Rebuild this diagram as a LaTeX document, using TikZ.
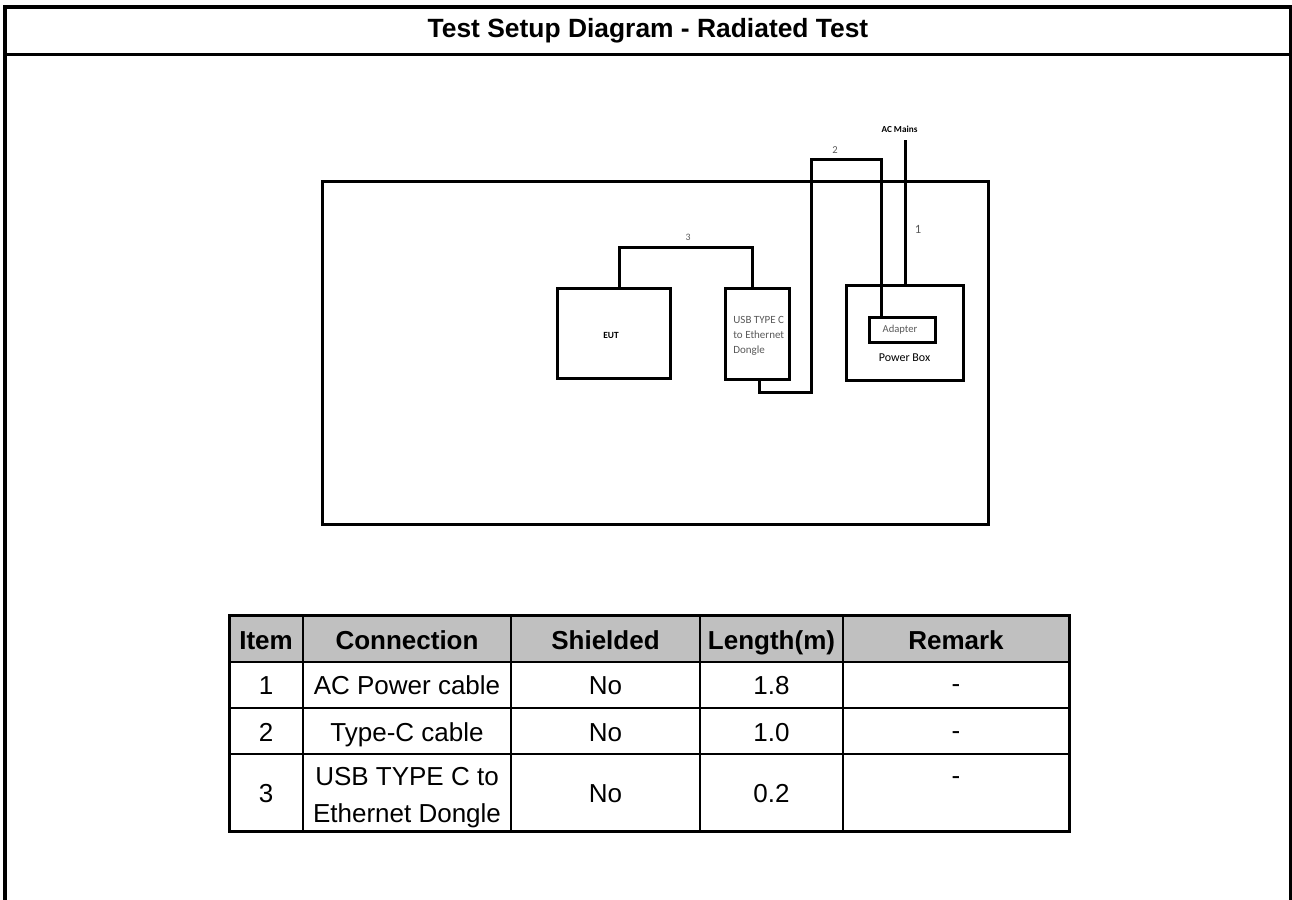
\documentclass[tikz,border=0pt]{standalone}
\usepackage{fontspec}
\setmainfont{Liberation Sans}
\newfontfamily\calibri{Carlito}
\definecolor{hdr}{HTML}{C0C0C0}
\definecolor{lblgray}{HTML}{595959}
\begin{document}
\begin{tikzpicture}[x=0.5pt,y=-0.5pt,
  box/.style={draw, line width=1.5pt, inner sep=0pt, outer sep=0pt},
  cable/.style={line width=1.5pt},
  dlbl/.style={font=\calibri\fontsize{5.5}{7.5}\selectfont, text=lblgray, inner sep=0pt},
  num/.style={font=\calibri\fontsize{5.3}{6}\selectfont, text=lblgray, inner sep=0pt},
  th/.style={font=\bfseries\fontsize{13}{15}\selectfont, inner sep=0pt, anchor=base},
  td/.style={font=\fontsize{13}{15}\selectfont, inner sep=0pt, anchor=base}]
\useasboundingbox (0,0) rectangle (1292,900);

% outer frame
\draw[line width=2pt] (5.3,900) -- (5.3,7) -- (1291,7) -- (1291,900);
\draw[line width=1.2pt] (5,54.5) -- (1291,54.5);
\node[font=\bfseries\fontsize{13.2}{15}\selectfont, inner sep=0pt] (title) at (648,31) {Test Setup Diagram - Radiated Test};

% diagram
\node[box, minimum width=333pt, minimum height=171.5pt] (table) at (655,352.5) {};
\node[box, minimum width=56.5pt, minimum height=45pt] (eut) at (613.5,333) {};
\node[font=\calibri\bfseries\fontsize{4.7}{5}\selectfont, inner sep=0pt] (eutl) at (611,335) {EUT};
\node[box, minimum width=32pt, minimum height=45.5pt] (dongle) at (757,333.5) {};
\node[dlbl, align=left, anchor=west] (dongl) at (733,336) {USB TYPE C\\to Ethernet\\Dongle};
\node[box, minimum width=58.5pt, minimum height=47.5pt] (pbox) at (904.5,332.5) {};
\node[font=\calibri\fontsize{6}{7}\selectfont, inner sep=0pt] (pboxl) at (904.5,358) {Power Box};
\node[box, minimum width=33pt, minimum height=12.5pt] (adapter) at (902,329.5) {};
\node[dlbl, font=\calibri\fontsize{5.3}{6}\selectfont] (adapterl) at (900,330) {Adapter};

% cable 3
\coordinate (c3a) at (619,247);
\coordinate (c3b) at (752,247);
\draw[cable] (eut.north -| c3a) -- (c3a) -- (c3b) -- (dongle.north -| c3b);
\node[num, font=\calibri\fontsize{4.9}{6}\selectfont] (n3) at (688,237) {3};
% cable 2
\coordinate (c2a) at (759,392);
\coordinate (c2b) at (811,392);
\coordinate (c2c) at (811,159);
\coordinate (c2d) at (881,159);
\draw[cable] (dongle.south -| c2a) -- (c2a) -- (c2b) -- (c2c) -- (c2d) -- (adapter.north -| c2d);
\node[num] (n2) at (835,150) {2};
% cable 1
\node[font=\calibri\bfseries\fontsize{4.6}{5}\selectfont, inner sep=0pt] (mains) at (899.5,129) {AC Mains};
\coordinate (c1a) at (905,140);
\draw[cable] (c1a) -- (pbox.north -| c1a);
\node[num, font=\calibri\fontsize{6.3}{7}\selectfont] (n1) at (918,229) {1};

% table
\fill[hdr] (229,615) rectangle (1069,662);
\draw[line width=1pt] (229,662) -- (1069,662) (229,708) -- (1069,708) (229,754) -- (1069,754);
\draw[line width=1pt] (303,615) -- (303,831) (511,615) -- (511,831) (700,615) -- (700,831) (843,615) -- (843,831);
\draw[line width=1.5pt] (229,615) rectangle (1069,831);

\node[th] (h1) at (266,649) {Item};
\node[th] (h2) at (407,649) {Connection};
\node[th] (h3) at (605.5,649) {Shielded};
\node[th] (h4) at (771.5,649) {Length(m)};
\node[th] (h5) at (956,649) {Remark};

\node[td] (a1) at (266,694) {1};
\node[td] (a2) at (407,694) {AC Power cable};
\node[td] (a3) at (605.5,694) {No};
\node[td] (a4) at (771.5,694) {1.8};
\node[td] (a5) at (956,692) {-};

\node[td] (b1) at (266,741) {2};
\node[td] (b2) at (407,741) {Type-C cable};
\node[td] (b3) at (605.5,741) {No};
\node[td] (b4) at (771.5,741) {1.0};
\node[td] (b5) at (956,739) {-};

\node[td] (r1) at (266,802) {3};
\node[td] (r2a) at (407,785) {USB TYPE C to};
\node[td] (r2b) at (407,822) {Ethernet Dongle};
\node[td] (r3) at (605.5,802) {No};
\node[td] (r4) at (771.5,802) {0.2};
\node[td] (r5) at (956,784) {-};
\end{tikzpicture}
\end{document}
